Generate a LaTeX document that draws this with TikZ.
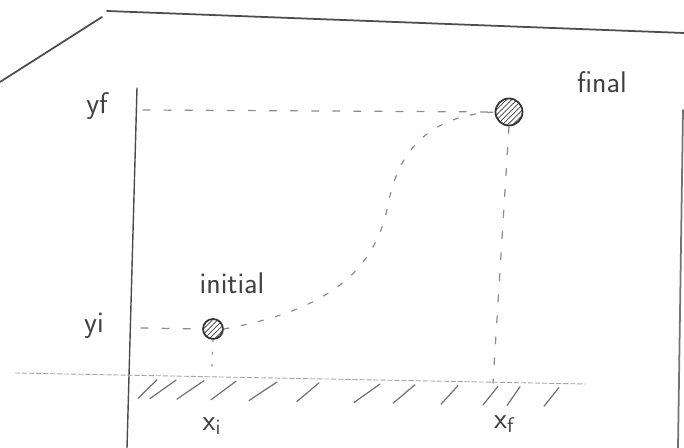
\documentclass[tikz,border=0pt]{standalone}
\usetikzlibrary{patterns}
\begin{document}
\begin{tikzpicture}[x=0.02cm,y=-0.02cm,
    pen/.style={draw=black!70, line width=1pt, line cap=round},
    guide/.style={draw=black!45, line width=0.7pt, line cap=round, dash pattern=on 4pt off 8pt},
    ball/.style={circle, draw=black!80, line width=1pt, pattern=north east lines, pattern color=black!75, inner sep=0pt},
    hand/.style={text=black!75, font=\sffamily\fontsize{17}{20}\selectfont}]

    \useasboundingbox (0,0) rectangle (684,448);

    % frame and axis
    \draw[pen] (0,82) -- (102,17);
    \draw[pen] (107,11) -- (684,33);
    \draw[pen, black!55] (683,110) -- (678,448);
    \draw[pen, line width=0.8pt] (137,88) -- (127,448);

    % ground
    \coordinate (g0) at (15,373);
    \coordinate (g1) at (585,384);
    \draw[black!35, line width=0.5pt, dash pattern=on 3pt off 1pt] (g0) -- (g1);
    \foreach \a/\b in {138/157,150/176,177/204,211/236,249/277,297/319,354/380,393/415,441/458,483/498,507/520,544/559}
    \draw[pen, black!55, line width=0.7pt] (\a,{396+0.0193*(\a-15)}) -- (\b,{377+0.0193*(\b-15)});

    \node[ball, minimum size=4mm] (ini) at (213,329) {};
    \node[ball, minimum size=5.4mm] (fin) at (509,112) {};

    \node[hand] (lini) at (232,283) {initial};
    \node[hand] (lfin) at (602,82) {final};
    \node[hand] (lyf) at (97,106) {yf};
    \node[hand] (lyi) at (94,326) {yi};
    \node[hand] (lxi) at (212,426) {x$_\mathsf{i}$};
    \node[hand] (lxf) at (505,424) {x$_\mathsf{f}$};

    \coordinate (ayf) at (143,110);
    \coordinate (ayi) at (141,328);
    \coordinate (gxi) at (212,367);
    \coordinate (gxf) at (493,383);
    \draw[guide] (ayf) -- (fin.west);
    \draw[guide] (ayi) -- (ini.west);
    \draw[guide] (fin.south) -- (gxf);
    \draw[guide, dash pattern=on 1pt off 6pt] (ini.south) -- (gxi);
    \draw[guide, dash pattern=on 3pt off 7pt] (ini.east) .. controls (330,310) and (375,270) .. (388,205)
        .. controls (400,140) and (440,115) .. (fin.west);

\end{tikzpicture}
\end{document}
